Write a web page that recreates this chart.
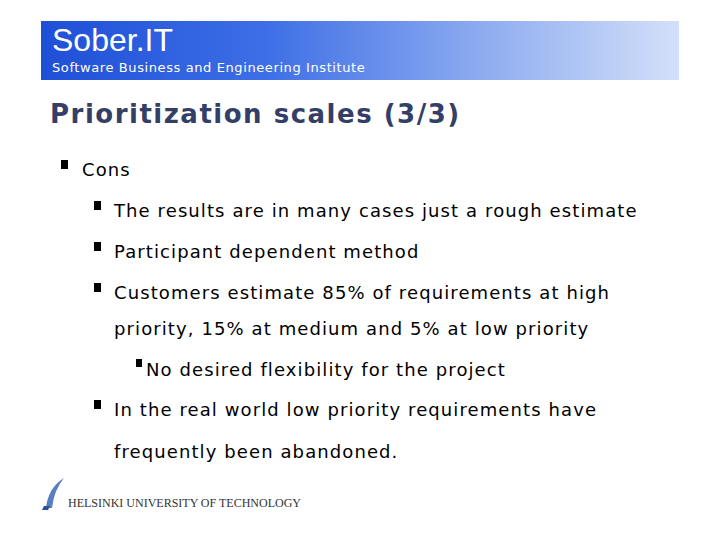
<!DOCTYPE html>
<html><head><meta charset="utf-8">
<script src="https://cdn.jsdelivr.net/npm/chart.js"></script>
<style>
body{margin:0;width:720px;height:540px;background:#fff;position:relative;overflow:hidden;font-family:"DejaVu Sans",Verdana,sans-serif}
.t{position:absolute;white-space:nowrap;color:#000;font-size:18px;letter-spacing:1.1px}
.b{position:absolute;width:7px;height:9px;background:#000}
#hdr{position:absolute;left:41px;top:21px;width:638px;height:59px;background:linear-gradient(90deg,#1f4fd6 0%,#3d6ee6 35%,#8fadf0 70%,#d4e0fa 100%)}
</style></head><body>
<div id="hdr"></div>
<div class="t" style="left:52px;top:22px;font-size:32px;letter-spacing:0;color:#fff;font-family:'Liberation Sans',sans-serif">Sober.IT</div>
<div class="t" style="left:52px;top:60px;font-size:13px;letter-spacing:0.6px;color:#fff">Software Business and Engineering Institute</div>
<div class="t" style="left:50px;top:99px;font-size:26px;letter-spacing:1.5px;font-weight:bold;color:#333f66">Prioritization scales (3/3)</div>
<div class="b" style="left:61px;top:160px"></div>
<div class="t" style="left:82px;top:159px">Cons</div>
<div class="b" style="left:94px;top:201px"></div>
<div class="t" style="left:114px;top:200px">The results are in many cases just a rough estimate</div>
<div class="b" style="left:94px;top:242px"></div>
<div class="t" style="left:114px;top:241px">Participant dependent method</div>
<div class="b" style="left:94px;top:283px"></div>
<div class="t" style="left:114px;top:282px">Customers estimate 85% of requirements at high</div>
<div class="t" style="left:114px;top:318px">priority, 15% at medium and 5% at low priority</div>
<div class="b" style="left:136px;top:359px;width:6px;height:8px"></div>
<div class="t" style="left:146px;top:359px">No desired flexibility for the project</div>
<div class="b" style="left:94px;top:400px"></div>
<div class="t" style="left:114px;top:399px">In the real world low priority requirements have</div>
<div class="t" style="left:114px;top:441px">frequently been abandoned.</div>
<svg style="position:absolute;left:42px;top:476px" width="26" height="34"><path d="M4 32 Q6 12 22 2 Q12 14 10 32 Z" fill="#5a7fc0"/><path d="M2 30 L8 30 L6 34 L0 34Z" fill="#2b4f9a"/></svg>
<div class="t" style="left:68px;top:496px;font-size:12px;letter-spacing:0;font-family:'Liberation Serif',serif;color:#333">HELSINKI UNIVERSITY OF TECHNOLOGY</div>
</body></html>
